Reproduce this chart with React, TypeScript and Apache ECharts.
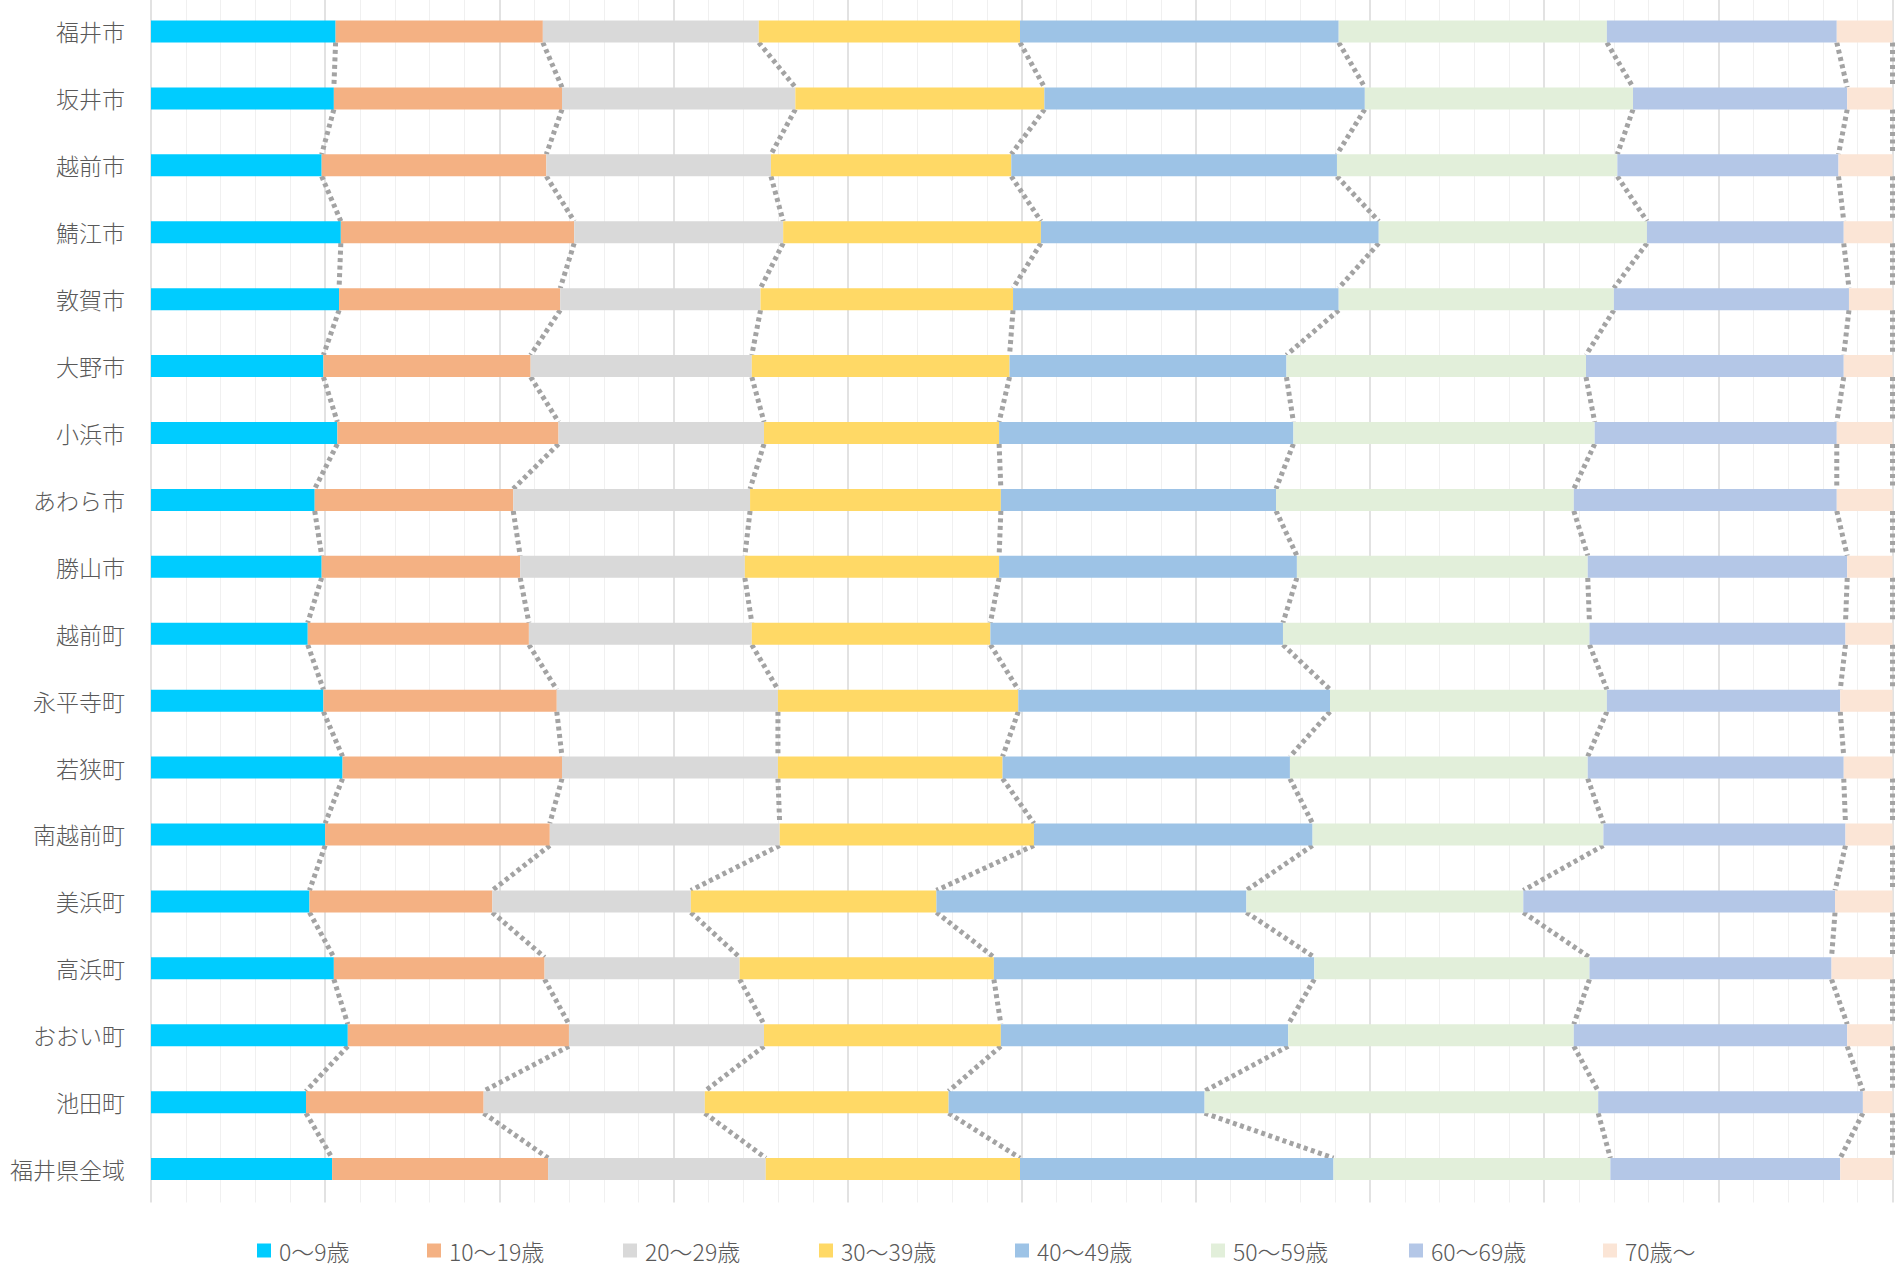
import React, { useEffect, useRef } from "react";
import * as echarts from "echarts";

const categories = [
  "福井市", "坂井市", "越前市", "鯖江市", "敦賀市", "大野市", "小浜市", "あわら市", "勝山市",
  "越前町", "永平寺町", "若狭町", "南越前町", "美浜町", "高浜町", "おおい町", "池田町", "福井県全域",
];

const ageGroups = ["0〜9歳", "10〜19歳", "20〜29歳", "30〜39歳", "40〜49歳", "50〜59歳", "60〜69歳", "70歳〜"];

const age0 = [10.6, 10.5, 9.8, 10.9, 10.8, 9.9, 10.7, 9.4, 9.8, 9.0, 9.9, 11.0, 10.0, 9.1, 10.5, 11.3, 8.9, 10.4];
const age10 = [11.9, 13.1, 12.9, 13.4, 12.7, 11.9, 12.7, 11.4, 11.4, 12.7, 13.4, 12.6, 12.9, 10.5, 12.1, 12.7, 10.2, 12.4];
const age20 = [12.4, 13.4, 12.9, 12.0, 11.5, 12.7, 11.8, 13.6, 12.9, 12.8, 12.7, 12.4, 13.2, 11.4, 11.2, 11.2, 12.7, 12.5];
const age30 = [15.0, 14.3, 13.8, 14.8, 14.5, 14.8, 13.5, 14.4, 14.6, 13.7, 13.8, 12.9, 14.6, 14.1, 14.6, 13.6, 14.0, 14.6];
const age40 = [18.3, 18.4, 18.7, 19.4, 18.7, 15.9, 16.9, 15.8, 17.1, 16.8, 17.9, 16.5, 16.0, 17.8, 18.4, 16.5, 14.7, 18.0];
const age50 = [15.4, 15.4, 16.1, 15.4, 15.8, 17.2, 17.3, 17.1, 16.7, 17.6, 15.9, 17.1, 16.7, 15.9, 15.8, 16.4, 22.6, 15.9];
const age60 = [13.2, 12.3, 12.7, 11.3, 13.5, 14.8, 13.9, 15.1, 14.9, 14.7, 13.4, 14.7, 13.9, 17.9, 13.9, 15.7, 15.2, 13.2];
const age70 = [3.2, 2.6, 3.1, 2.8, 2.5, 2.8, 3.2, 3.2, 2.6, 2.7, 3.0, 2.8, 2.7, 3.3, 3.5, 2.6, 1.7, 3.0];

const seriesValues = [age0, age10, age20, age30, age40, age50, age60, age70];

const colors = ["#00CCFF", "#F4B183", "#D9D9D9", "#FFD966", "#9DC3E6", "#E2EFDA", "#B4C7E7", "#FBE5D6"];
const legendLeft = [257, 427, 623, 819, 1015, 1211, 1409, 1603];

const FONT = "'Noto Sans CJK JP', 'Noto Sans', sans-serif";
const BAR_H = 22;

export default function App() {
  const ref = useRef<HTMLDivElement>(null);

  useEffect(() => {
    document.body.style.margin = "0";
    document.body.style.overflow = "hidden";
    if (!ref.current) return;
    const chart = echarts.init(ref.current, undefined, { renderer: "svg" });

    const n = categories.length;
    const cum: number[][] = seriesValues.map((_, k) =>
      categories.map((__, i) => {
        let s = 0;
        for (let j = 0; j <= k; j++) s += seriesValues[j][i];
        return Math.min(100, s);
      })
    );
    const lineData: number[][] = [];
    cum.forEach((arr) => {
      for (let i = 0; i < n - 1; i++) lineData.push([arr[i], arr[i + 1], i]);
    });

    const barSeries = ageGroups.map((name, k) => ({
      name,
      type: "bar",
      stack: "total",
      barWidth: BAR_H,
      data: seriesValues[k],
      itemStyle: { color: colors[k] },
      emphasis: { disabled: true },
    }));

    const option: any = {
      animation: false,
      grid: { left: 151, right: 7.5, top: 0, bottom: 66.5, containLabel: false },
      xAxis: {
        type: "value",
        min: 0,
        max: 100,
        interval: 10,
        axisLabel: { show: false },
        axisLine: { show: false },
        axisTick: { show: false },
        minorTick: { show: false, splitNumber: 5 },
        splitLine: { show: true, lineStyle: { color: "#D9D9D9", width: 1.5 } },
        minorSplitLine: { show: true, lineStyle: { color: "#F0F0F0", width: 1 } },
      },
      yAxis: {
        type: "category",
        inverse: true,
        data: categories,
        axisLine: { show: false },
        axisTick: { show: false },
        splitLine: { show: false },
        axisLabel: {
          color: "#595959",
          fontSize: 23,
          fontWeight: 300,
          fontFamily: FONT,
          margin: 26,
          padding: [0, 0, 5, 0],
        },
      },
      legend: ageGroups.map((name, k) => ({
        data: [name],
        left: legendLeft[k],
        top: 1241,
        padding: 0,
        icon: "rect",
        itemWidth: 14,
        itemHeight: 14,
        itemGap: 0,
        selectedMode: false,
        textStyle: { color: "#595959", fontSize: 23, fontWeight: 300, fontFamily: FONT, padding: [0, 0, 0, 3] },
      })),
      series: [
        ...barSeries,
        {
          name: "series-lines",
          type: "custom",
          clip: false,
          silent: true,
          encode: { x: [0, 1], y: 2 },
          data: lineData,
          renderItem: (params: any, api: any) => {
            const i = api.value(2);
            const a = api.coord([api.value(0), i]);
            const b = api.coord([api.value(1), i + 1]);
            const h = BAR_H / 2;
            return {
              type: "line",
              shape: { x1: a[0], y1: a[1] + h, x2: b[0], y2: b[1] - h },
              style: { stroke: "#A3A3A3", lineWidth: 5, lineDash: [4, 3.5], fill: null },
            };
          },
        },
      ],
    };

    chart.setOption(option);
    return () => chart.dispose();
  }, []);

  return (
    <div
      ref={ref}
      style={{ position: "absolute", left: 0, top: -2, width: 1900, height: 1271 }}
    />
  );
}
